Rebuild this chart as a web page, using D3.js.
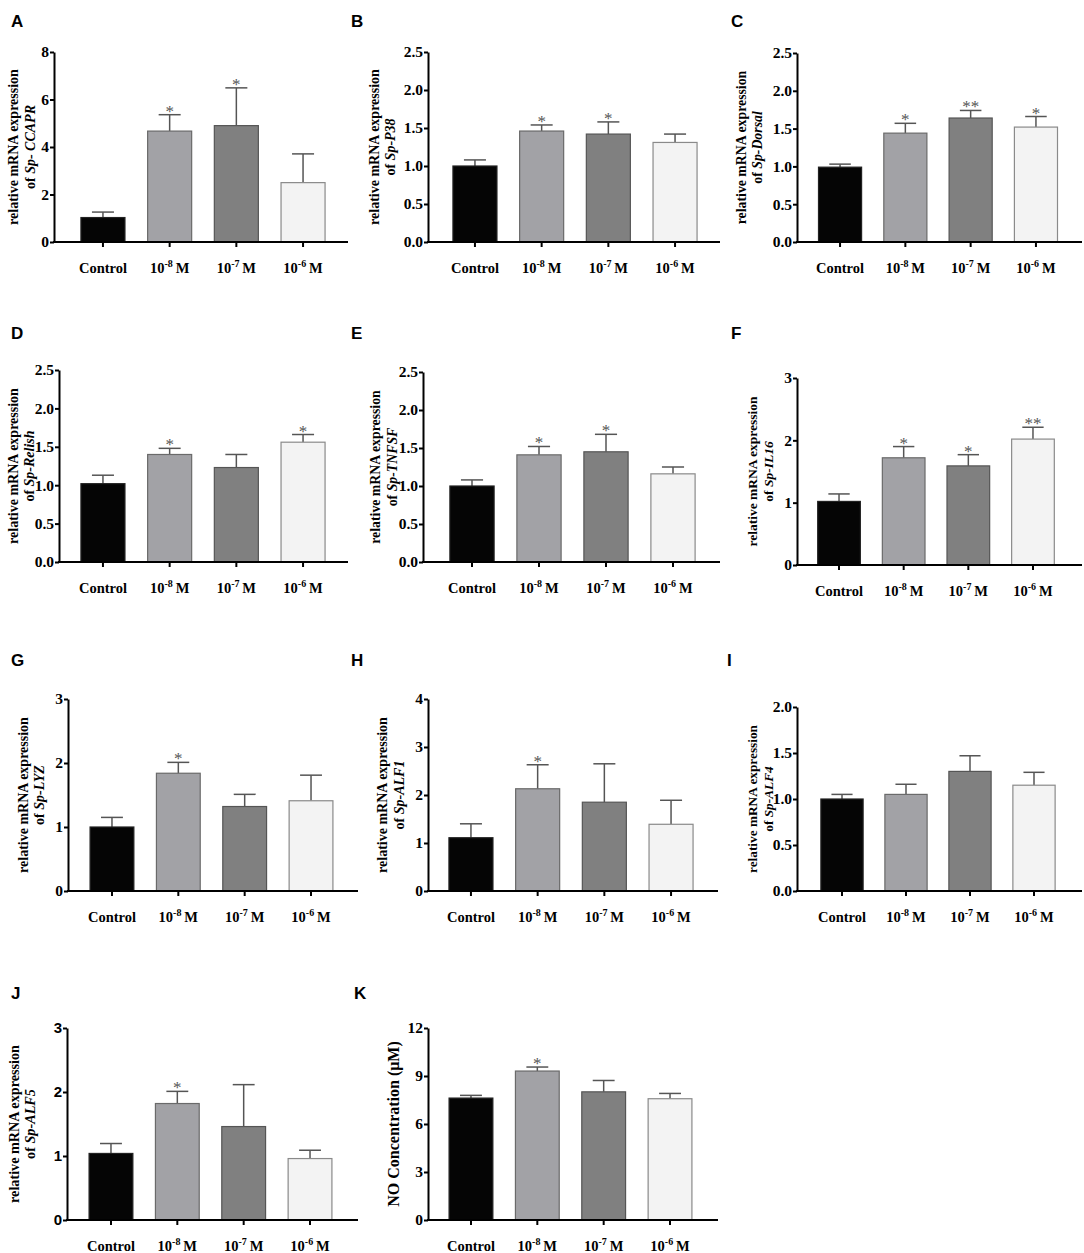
<!DOCTYPE html>
<html><head><meta charset="utf-8">
<script src="https://cdn.jsdelivr.net/npm/d3@7"></script>
<style>body{margin:0;background:#fff} svg{display:block}</style>
</head><body>
<svg id="chart" width="1084" height="1253"></svg>
<script>
// ---------------- DATA ----------------
const categories = ["Control", "10^-8 M", "10^-7 M", "10^-6 M"];
const panelLetters = ["A","B","C","D","E","F","G","H","I","J","K"];
const geneNames = ["Sp- CCAPR","Sp-P38","Sp-Dorsal","Sp-Relish","Sp-TNFSF","Sp-IL16","Sp-LYZ","Sp-ALF1","Sp-ALF4","Sp-ALF5", null];
const titleLine1 = "relative mRNA expression";
const noTitle = "NO Concentration (μM)";
const yMaxima = [8, 2.5, 2.5, 2.5, 2.5, 3, 3, 4, 2, 3, 12];
const yTickSteps = [2, 0.5, 0.5, 0.5, 0.5, 1, 1, 1, 0.5, 1, 3];
const yTickDecimals = [0, 1, 1, 1, 1, 0, 0, 0, 1, 0, 0];
const meanValues = [
  [1.03, 4.67, 4.90, 2.50],
  [1.00, 1.46, 1.42, 1.31],
  [0.99, 1.44, 1.64, 1.52],
  [1.02, 1.40, 1.23, 1.56],
  [1.00, 1.41, 1.45, 1.16],
  [1.02, 1.72, 1.59, 2.02],
  [1.00, 1.84, 1.32, 1.41],
  [1.11, 2.13, 1.85, 1.39],
  [1.00, 1.05, 1.30, 1.15],
  [1.04, 1.82, 1.46, 0.96],
  [7.62, 9.31, 8.01, 7.58]
];
const errorValues = [
  [0.23, 0.69, 1.59, 1.21],
  [0.08, 0.08, 0.16, 0.11],
  [0.04, 0.13, 0.10, 0.14],
  [0.11, 0.08, 0.17, 0.10],
  [0.08, 0.11, 0.23, 0.09],
  [0.12, 0.18, 0.18, 0.19],
  [0.15, 0.17, 0.19, 0.40],
  [0.29, 0.50, 0.80, 0.50],
  [0.05, 0.11, 0.17, 0.14],
  [0.155, 0.19, 0.655, 0.13],
  [0.17, 0.25, 0.71, 0.33]
];
const significance = [
  ["", "*", "*", ""],
  ["", "*", "*", ""],
  ["", "*", "**", "*"],
  ["", "*", "", "*"],
  ["", "*", "*", ""],
  ["", "*", "*", "**"],
  ["", "*", "", ""],
  ["", "*", "", ""],
  ["", "", "", ""],
  ["", "*", "", ""],
  ["", "*", "", ""]
];

// ---------------- LAYOUT / STYLE ----------------
const barFill = ["#050505", "#a2a2a6", "#808080", "#f3f3f3"];
const barStroke = ["#222", "#6a6a6a", "#555", "#8a8a8a"];
const layout = [
  {ax:54,  bx0:69.6,  bx1:336.4,  ax1:348,  yTop:52,   yZero:242,  t1:-41, t2:-24, ts:14,   lx:11,  ly:27},
  {ax:428, bx0:441.6, bx1:708.4,  ax1:720,  yTop:52,   yZero:242,  t1:-53.5, t2:-38, ts:14, lx:351, ly:27},
  {ax:797, bx0:807.4, bx1:1068.6, ax1:1082, yTop:53,   yZero:242,  t1:-56, t2:-40, ts:13.8, lx:731, ly:27},
  {ax:59,  bx0:69.6,  bx1:336.4,  ax1:348,  yTop:370,  yZero:562,  t1:-46, t2:-30, ts:14,   lx:11,  ly:339},
  {ax:423, bx0:438.5, bx1:706.5,  ax1:720,  yTop:372,  yZero:562,  t1:-47.5, t2:-31.5, ts:13.8, lx:351, ly:339},
  {ax:797, bx0:806.7, bx1:1065.3, ax1:1082, yTop:378,  yZero:565,  t1:-45, t2:-29, ts:13.5, lx:731, ly:339},
  {ax:68,  bx0:78.8,  bx1:344.2,  ax1:358,  yTop:699,  yZero:891,  t1:-45, t2:-29, ts:14,   lx:11,  ly:666},
  {ax:428, bx0:437.6, bx1:704.4,  ax1:718,  yTop:699,  yZero:891,  t1:-46, t2:-29, ts:14,   lx:351, ly:666},
  {ax:797, bx0:810,   bx1:1066,   ax1:1082, yTop:707,  yZero:891,  t1:-45, t2:-29, ts:13.3, lx:727, ly:666},
  {ax:67,  bx0:77.8,  bx1:343.2,  ax1:358,  yTop:1028, yZero:1220, t1:-53, t2:-37, ts:14.2, lx:11,  ly:999},
  {ax:428, bx0:437.8, bx1:703.2,  ax1:718,  yTop:1028, yZero:1220, t1:-35, t2:null, ts:16,  lx:354, ly:999}
];
const serif = "'Liberation Serif','Times New Roman',serif";
const sans = "'Liberation Sans',Arial,sans-serif";
const sansTicksPanel = "J";

const svg = d3.select("#chart");

panelLetters.forEach((letter, p) => {
  const L = layout[p];
  const g = svg.append("g");

  const x = d3.scaleBand().domain(categories).range([L.bx0, L.bx1])
    .paddingInner(0.34).paddingOuter(0.17);
  const y = d3.scaleLinear().domain([0, yMaxima[p]]).range([L.yZero, L.yTop]);

  // panel letter
  svg.append("text").attr("x", L.lx).attr("y", L.ly)
    .attr("font-family", sans).attr("font-weight", "bold").attr("font-size", 17)
    .attr("fill", "#000").text(letter);

  // bars
  const rows = categories.map((c, i) => ({c, i, v: meanValues[p][i], e: errorValues[p][i], s: significance[p][i]}));

  // error bars (drawn first so bar top covers start)
  const cap = x.bandwidth() * 0.25;
  const eb = g.append("g").attr("stroke", "#555").attr("stroke-width", 1.5).attr("fill", "none");
  rows.forEach(d => {
    const cx = x(d.c) + x.bandwidth() / 2;
    eb.append("line").attr("x1", cx).attr("x2", cx).attr("y1", y(d.v)).attr("y2", y(d.v + d.e));
    eb.append("line").attr("x1", cx - cap).attr("x2", cx + cap).attr("y1", y(d.v + d.e)).attr("y2", y(d.v + d.e));
  });

  g.append("g").selectAll("rect").data(rows).join("rect")
    .attr("x", d => x(d.c)).attr("width", x.bandwidth())
    .attr("y", d => y(d.v)).attr("height", d => y(0) - y(d.v))
    .attr("fill", d => barFill[d.i]).attr("stroke", d => barStroke[d.i]).attr("stroke-width", 1.2);

  // significance stars
  g.append("g").selectAll("text").data(rows.filter(d => d.s)).join("text")
    .attr("x", d => x(d.c) + x.bandwidth() / 2)
    .attr("y", d => y(d.v + d.e) + 2)
    .attr("text-anchor", "middle").attr("font-family", serif).attr("font-size", 17)
    .attr("fill", "#555").text(d => d.s);

  // y axis
  const ticks = d3.range(0, yMaxima[p] + 1e-9, yTickSteps[p]);
  const yAxis = d3.axisLeft(y).tickValues(ticks).tickSize(4).tickSizeOuter(0).tickPadding(1)
    .tickFormat(d3.format("." + yTickDecimals[p] + "f"));
  const yg = g.append("g").attr("transform", `translate(${L.ax},0)`).call(yAxis);
  yg.select(".domain").attr("stroke", "#000").attr("stroke-width", 2);
  yg.selectAll(".tick line").attr("stroke", "#000").attr("stroke-width", 2);
  yg.selectAll(".tick text").attr("fill", "#000")
    .attr("font-family", letter === sansTicksPanel ? sans : serif)
    .attr("font-weight", "bold").attr("font-size", letter === sansTicksPanel ? 15 : 15.5);

  // x axis
  const xAxis = d3.axisBottom(x).tickSize(5).tickSizeOuter(0).tickFormat("");
  const xg = g.append("g").attr("transform", `translate(0,${L.yZero})`).call(xAxis);
  xg.select(".domain").remove();
  xg.selectAll(".tick line").attr("stroke", "#000").attr("stroke-width", 2);
  xg.append("line").attr("x1", L.ax - 1).attr("x2", L.ax1).attr("y1", 0).attr("y2", 0)
    .attr("stroke", "#000").attr("stroke-width", 2);

  // x labels with superscripts
  categories.forEach(c => {
    const t = xg.append("text").attr("x", x(c) + x.bandwidth() / 2).attr("y", 31)
      .attr("text-anchor", "middle").attr("font-family", serif).attr("font-weight", "bold")
      .attr("font-size", 14.5).attr("fill", "#000");
    const m = c.match(/^(\d+)\^(-?\d+)\s*(.*)$/);
    if (m) {
      t.append("tspan").text(m[1]);
      t.append("tspan").attr("font-size", 10).attr("dy", -6).text(m[2]);
      t.append("tspan").attr("dy", 6).text("\u2009" + m[3]);
    } else {
      t.text(c);
    }
  });

  // y title
  const cy = (L.yTop + L.yZero) / 2;
  if (geneNames[p]) {
    g.append("text").attr("transform", `translate(${L.ax + L.t1},${cy}) rotate(-90)`)
      .attr("text-anchor", "middle").attr("dominant-baseline", "central")
      .attr("font-family", serif).attr("font-weight", "bold").attr("font-size", L.ts)
      .attr("fill", "#000").text(titleLine1);
    const t2 = g.append("text").attr("transform", `translate(${L.ax + L.t2},${cy}) rotate(-90)`)
      .attr("text-anchor", "middle").attr("dominant-baseline", "central")
      .attr("font-family", serif).attr("font-weight", "bold").attr("font-size", L.ts)
      .attr("fill", "#000");
    t2.append("tspan").text("of ");
    t2.append("tspan").attr("font-style", "italic").text(geneNames[p]);
  } else {
    g.append("text").attr("transform", `translate(${L.ax + L.t1},${cy}) rotate(-90)`)
      .attr("text-anchor", "middle").attr("dominant-baseline", "central")
      .attr("font-family", serif).attr("font-weight", "bold").attr("font-size", L.ts)
      .attr("fill", "#000").text(noTitle);
  }
});
</script>
</body></html>
